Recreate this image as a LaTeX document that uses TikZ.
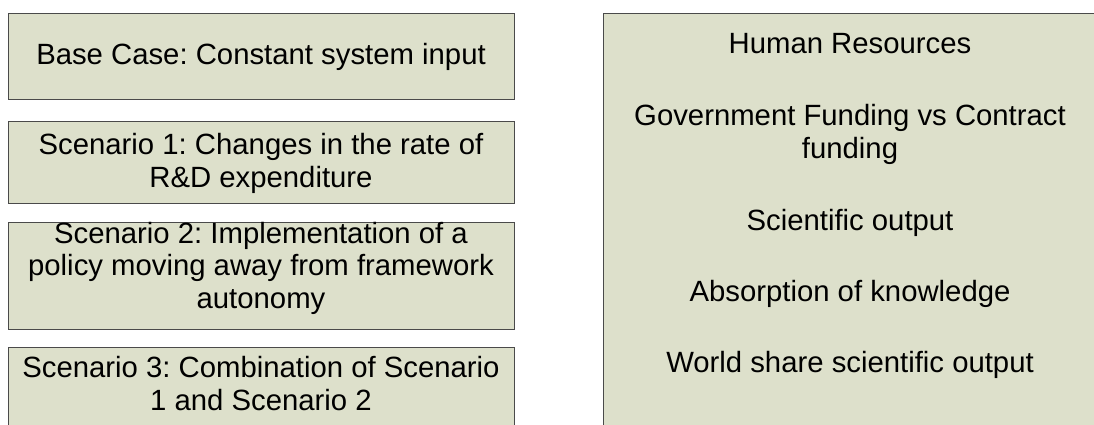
\documentclass[tikz,border=0pt]{standalone}
\usepackage{fontspec}
\setmainfont{Liberation Sans}
\frenchspacing
\definecolor{boxfill}{HTML}{DDE0CB}
\definecolor{boxline}{HTML}{4A4A4A}
\begin{document}
\begin{tikzpicture}[x=1pt,y=-1pt,
  panel/.style={draw=boxline,fill=boxfill,line width=1pt,inner sep=0pt,outer sep=0pt,rectangle},
  label/.style={anchor=base,align=center,inner sep=0pt,font=\fontsize{29.3}{32.5}\selectfont}]
\useasboundingbox (0,0) rectangle (1094,424);
\clip (0,0) rectangle (1094,424);
% left column boxes
\node[panel,minimum width=506pt,minimum height=86pt] (b0) at (261,56) {};
\node[panel,minimum width=506pt,minimum height=82pt] (b1) at (261,162) {};
\node[panel,minimum width=506pt,minimum height=107pt] (b2) at (261,275.5) {};
\node[panel,minimum width=506pt,minimum height=82pt] (b3) at (261,388) {};
% right box
\node[panel,minimum width=494pt,minimum height=416pt] (r) at (850,221) {};
% left texts (base = last line)
\node[label] (t0) at (261,64) {Base Case: Constant system input};
\node[label] (t1) at (261,187) {Scenario 1: Changes in the rate of\\R\&D expenditure};
\node[label] (t2) at (261,308) {Scenario 2: Implementation of a\\policy moving away from framework\\autonomy};
\node[label] (t3) at (261,410) {Scenario 3: Combination of Scenario\\1 and Scenario 2};
% right texts
\node[label] (h1) at (850,53) {Human Resources};
\node[label] (h2) at (850,158) {Government Funding vs Contract\\funding};
\node[label] (h3) at (850,230) {Scientific output};
\node[label] (h4) at (850,301) {Absorption of knowledge};
\node[label] (h5) at (850,372) {World share scientific output};
\end{tikzpicture}
\end{document}
